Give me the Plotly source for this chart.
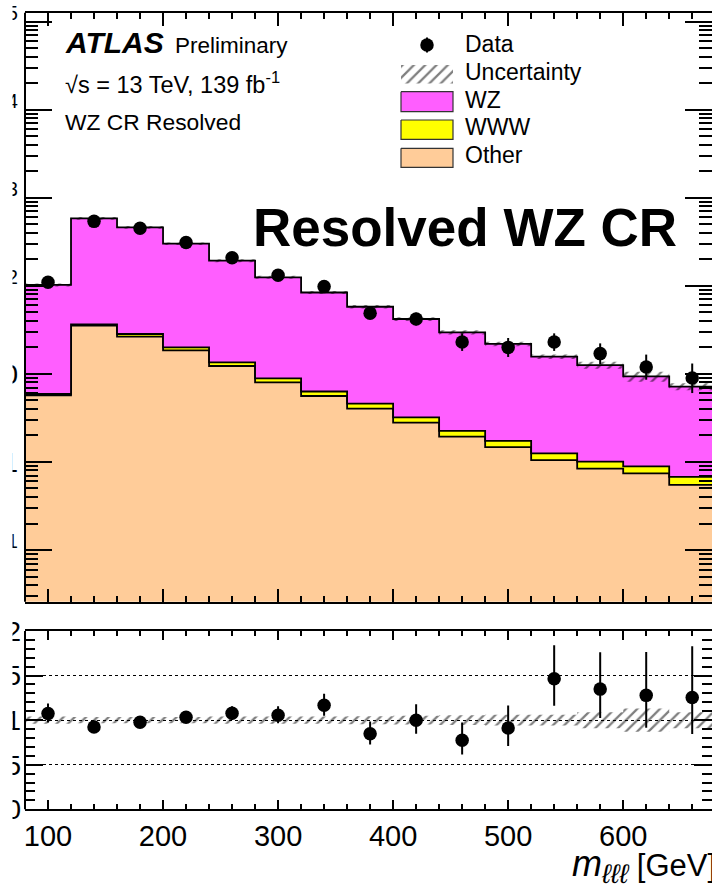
import numpy as np
import plotly.graph_objects as go

# ---------------------------------------------------------------------------
# m_lll distribution in the resolved WZ control region (40 GeV bins)
# ---------------------------------------------------------------------------
bin_edges = [80, 120, 160, 200, 240, 280, 320, 360, 400, 440, 480, 520, 560, 600, 640, 680]

# expected yields per bin
other = [5.69, 35.3, 26.5, 18.5, 12.3, 8.03, 5.61, 4.03, 2.79, 1.94, 1.47, 1.05, 0.84, 0.74, 0.55]
www = [0.22, 1.3, 1.9, 1.5, 1.25, 0.88, 0.70, 0.56, 0.42, 0.32, 0.27, 0.20, 0.17, 0.15, 0.126]
wz = [96.4, 548.2, 434.0, 281.1, 179.6, 116.1, 77.7, 53.3, 38.8, 27.4, 20.2, 14.45, 11.6, 8.5, 6.5]

# relative uncertainty on the total prediction
pred_rel_unc = [0.04, 0.035, 0.035, 0.035, 0.04, 0.04, 0.04, 0.045, 0.05, 0.055, 0.06, 0.06, 0.09, 0.13, 0.09]

# observed events
data_counts = [110, 540, 451, 311, 208, 132, 98, 49, 42, 23, 20, 23, 17, 12, 9]

events_tickvals = [1e-1, 1, 10, 1e2, 1e3, 1e4, 1e5]
events_ticktext = ["10<sup>\u22121</sup>", "1", "10", "10<sup>2</sup>", "10<sup>3</sup>",
                   "10<sup>4</sup>", "10<sup>5</sup>"]
ratio_tickvals = [0, 0.5, 1, 1.5, 2]
ratio_ticktext = ["0", "0.5", "1", "1.5", "2"]

# ---------------------------------------------------------------------------
edges = np.array(bin_edges, dtype=float)
centers = 0.5 * (edges[:-1] + edges[1:])
other_a = np.array(other)
www_a = np.array(www)
wz_a = np.array(wz)
cum_other = other_a
cum_www = other_a + www_a
total = other_a + www_a + wz_a
unc = np.array(pred_rel_unc)
n_obs = np.array(data_counts, dtype=float)


def poisson_interval(n):
    """Gehrels approximation of the 68% Poisson interval."""
    up = np.sqrt(n + 0.75) + 1.0
    lo = n - n * (1.0 - 1.0 / (9.0 * n) - 1.0 / (3.0 * np.sqrt(n))) ** 3
    return up, lo


err_up, err_dn = poisson_interval(n_obs)
ratio = n_obs / total
ratio_up = err_up / total
ratio_dn = err_dn / total


def steps(vals):
    v = list(vals)
    return list(edges), v + [v[-1]]


W, H = 712, 886
ML = 25
PW = W - ML
FONT = "Liberation Sans, Arial, sans-serif"

MAGENTA = "#ff5eff"
YELLOW = "#ffff00"
PEACH = "#ffcc99"
HATCH = "#000000"
HATCH_PATTERN = dict(shape="/", size=8, solidity=0.28, fgcolor=HATCH)

top_dom = [1 - 601.7 / H, 1 - 12.7 / H]
rat_dom = [1 - 809.3 / H, 1 - 631.0 / H]

fig = go.Figure()

# ---- stacked predictions (top panel) ----
sx, sy = steps(np.full_like(total, 1e-3))
fig.add_trace(go.Scatter(x=sx, y=sy, mode="lines", line=dict(width=0, shape="hv"),
                         hoverinfo="skip", showlegend=False))
for cum, col, name in [(cum_other, PEACH, "Other"), (cum_www, YELLOW, "WWW"), (total, MAGENTA, "WZ")]:
    sx, sy = steps(cum)
    fig.add_trace(go.Scatter(x=sx, y=sy, mode="lines", name=name,
                             line=dict(color="black", width=1.8, shape="hv"),
                             fill="tonexty", fillcolor=col, showlegend=False))

# uncertainty band
sx, sy = steps(total * (1 - unc))
fig.add_trace(go.Scatter(x=sx, y=sy, mode="lines", line=dict(width=0, shape="hv"),
                         hoverinfo="skip", showlegend=False))
sx, sy = steps(total * (1 + unc))
fig.add_trace(go.Scatter(x=sx, y=sy, mode="lines", line=dict(width=0, shape="hv"),
                         fill="tonexty", fillcolor="rgba(0,0,0,0)", fillpattern=HATCH_PATTERN,
                         name="Uncertainty", showlegend=False))

# data
fig.add_trace(go.Scatter(x=centers, y=n_obs, mode="markers", name="Data",
                         marker=dict(color="black", size=13.5),
                         error_y=dict(type="data", array=err_up, arrayminus=err_dn,
                                      color="black", thickness=2, width=0),
                         showlegend=False))

# ---- ratio panel ----
sx, sy = steps(1 - unc)
fig.add_trace(go.Scatter(x=sx, y=sy, xaxis="x2", yaxis="y2", mode="lines",
                         line=dict(width=0, shape="hv"), hoverinfo="skip", showlegend=False))
sx, sy = steps(1 + unc)
fig.add_trace(go.Scatter(x=sx, y=sy, xaxis="x2", yaxis="y2", mode="lines",
                         line=dict(width=0, shape="hv"), fill="tonexty",
                         fillcolor="rgba(0,0,0,0)", fillpattern=HATCH_PATTERN,
                         showlegend=False))
fig.add_trace(go.Scatter(x=centers, y=ratio, xaxis="x2", yaxis="y2", mode="markers",
                         marker=dict(color="black", size=13.5),
                         error_y=dict(type="data", array=ratio_up, arrayminus=ratio_dn,
                                      color="black", thickness=2, width=0),
                         showlegend=False))

# ---- legend, drawn on a pixel-unit overlay of the top panel ----
def box(x0, x1, y0, y1):
    return [x0, x1, x1, x0, x0], [y0, y0, y1, y1, y0]

lx0, lx1 = 401, 453
fig.add_trace(go.Scatter(x=[427], y=[45], xaxis="x3", yaxis="y3", mode="markers",
                         marker=dict(color="black", size=13.5),
                         error_y=dict(type="constant", value=7.5, color="black", thickness=2, width=0),
                         hoverinfo="skip", showlegend=False))
bx, by = box(lx0, lx1, 65, 83.5)
fig.add_trace(go.Scatter(x=bx, y=by, xaxis="x3", yaxis="y3", mode="lines",
                         line=dict(width=0), fill="toself", fillcolor="rgba(0,0,0,0)",
                         fillpattern=HATCH_PATTERN, hoverinfo="skip", showlegend=False))
for (y0, y1), col in [((91.7, 111.7), MAGENTA), ((120, 139.3), YELLOW), ((148.3, 167.3), PEACH)]:
    bx, by = box(lx0, lx1, y0, y1)
    fig.add_trace(go.Scatter(x=bx, y=by, xaxis="x3", yaxis="y3", mode="lines",
                             line=dict(width=1.2, color="#333333"), fill="toself", fillcolor=col,
                             hoverinfo="skip", showlegend=False))

# ---- text ----
annotations = []


def ann(text, px, baseline, size, xanchor="left"):
    annotations.append(dict(
        text=text, xref="paper", yref="paper",
        x=(px - ML) / PW, y=1 - (baseline - 0.3465 * size) / H,
        xanchor=xanchor, yanchor="middle", showarrow=False,
        font=dict(family=FONT, size=size, color="black"), borderpad=0))


ann("<b><i>ATLAS</i></b>", 64, 53.3, 30)
ann("Preliminary", 174, 53.3, 22.5)
ann("\u221as = 13 TeV, 139 fb<sup>-1</sup>", 64, 91, 23.5)
ann("WZ CR Resolved", 64, 130, 22.8)
ann("<b>Resolved WZ CR</b>", 252, 246, 53)
for label, base in [("Data", 52.3), ("Uncertainty", 80), ("WZ", 107.5), ("WWW", 135), ("Other", 163.3)]:
    ann(label, 464, base, 23)
ann("<i><span style=\"font-size:36px\">m</span></i>"
    "<sub><span style=\"font-size:27px\"><i>\u2113\u2113\u2113</i></span></sub>"
    " [GeV]", 717, 877, 31, xanchor="right")

# minor tick positions on the log axis
log_minor = [k * 10.0 ** e for e in range(-2, 6) for k in range(2, 10)]

axis_common = dict(showgrid=False, zeroline=False, linecolor="black", linewidth=2,
                   tickcolor="black", tickwidth=1.5, ticks="inside",
                   tickfont=dict(family=FONT, size=28, color="black"))

fig.update_layout(
    width=W, height=H,
    margin=dict(l=ML, r=0, t=0, b=0, autoexpand=False),
    paper_bgcolor="white", plot_bgcolor="rgba(0,0,0,0)",
    showlegend=False,
    font=dict(family=FONT, color="black"),
    xaxis=dict(domain=[0, 1], anchor="y", range=[80, 677.2], showticklabels=False,
               tick0=0, dtick=100, ticklen=13, showline=True, mirror="allticks",
               minor=dict(dtick=20, ticklen=6, ticks="inside", tickcolor="black", tickwidth=1.5),
               **axis_common),
    yaxis=dict(domain=top_dom, anchor="x", type="log", range=[-1.587, 5.102],
               tickmode="array", tickvals=events_tickvals, ticktext=events_ticktext,
               ticklen=27, showline=False, mirror="allticks", ticklabelstandoff=6,
               minor=dict(tickmode="array", tickvals=log_minor, ticklen=13, ticks="inside",
                          tickcolor="black", tickwidth=1.5),
               **axis_common),
    xaxis2=dict(domain=[0, 1], anchor="y2", range=[80, 677.2], showticklabels=True,
                tick0=0, dtick=100, ticklen=9, showline=True, mirror="allticks",
                ticklabelstandoff=0,
                minor=dict(dtick=20, ticklen=5, ticks="inside", tickcolor="black", tickwidth=1.5),
                **{**axis_common, "tickfont": dict(family=FONT, size=29, color="black")}),
    yaxis2=dict(domain=rat_dom, anchor="x2", range=[0, 2], tickmode="array",
                tickvals=ratio_tickvals, ticktext=ratio_ticktext, ticklen=18,
                showline=False, mirror="allticks", ticklabelstandoff=3,
                minor=dict(dtick=0.1, ticklen=10, ticks="inside", tickcolor="black", tickwidth=1.5),
                **{**axis_common, "showgrid": True, "gridcolor": "black",
                   "griddash": "dot", "gridwidth": 1}),
    xaxis3=dict(overlaying="x", anchor="y3", range=[ML, W], visible=False),
    yaxis3=dict(overlaying="y", anchor="x3", range=[601.7, 12.7], visible=False),
    annotations=annotations,
    shapes=[
        # left frame edges
        dict(type="line", xref="paper", yref="paper", x0=0, x1=0, y0=top_dom[0], y1=top_dom[1],
             line=dict(color="black", width=2), layer="above"),
        dict(type="line", xref="paper", yref="paper", x0=0, x1=0, y0=rat_dom[0], y1=rat_dom[1],
             line=dict(color="black", width=2), layer="above"),
        # left margin is blank beyond the label edges
        dict(type="rect", xref="paper", yref="paper", x0=-ML / PW - 0.01, x1=-12.5 / PW,
             y0=-0.01, y1=1.01, fillcolor="white", line=dict(width=0), layer="above"),
    ],
)

fig.write_html("out.html")
